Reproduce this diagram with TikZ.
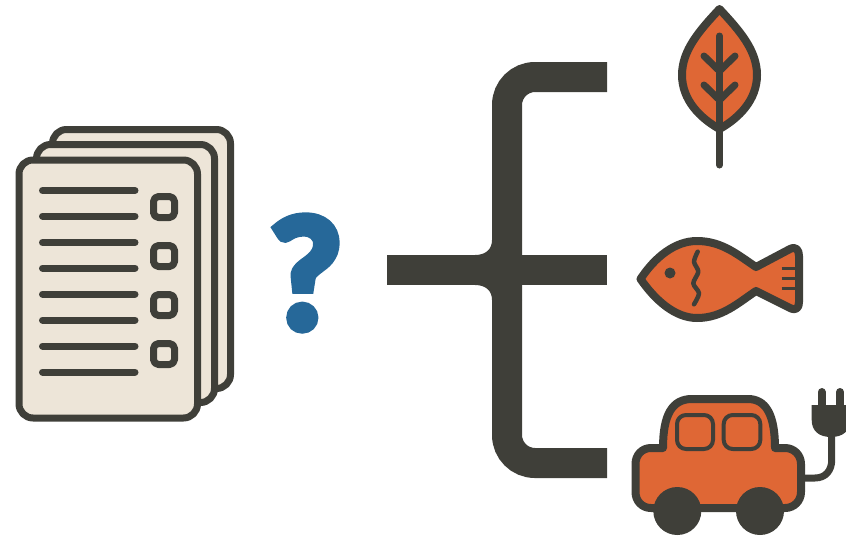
\documentclass[tikz,border=0pt]{standalone}
\usepackage{fontspec}
\newfontfamily\markfont{Lato}[BoldFeatures={FakeBold=6}]
\definecolor{inkdark}{HTML}{3F3F39}
\definecolor{paperbeige}{HTML}{EDE5D8}
\definecolor{iconorange}{HTML}{DF6735}
\definecolor{markblue}{HTML}{266899}
\tikzset{
  ink/.style={draw=inkdark, line width=7pt, line join=round, line cap=round},
  sheet/.style={ink, fill=paperbeige, rounded corners=14pt},
  tickbox/.style={ink, fill=paperbeige, rounded corners=5pt},
  textline/.style={ink},
  icon/.style={ink, line width=8pt, fill=iconorange},
  pane/.style={ink, line width=4pt, rounded corners=9pt},
  brace/.style={draw=inkdark, line width=30pt}
}
\begin{document}
\begin{tikzpicture}[x=1pt, y=-1pt]
  \clip (0,0) rectangle (846,536);
  % --- Stak af ark ---
  \draw[sheet] (52.5,129.5) rectangle (230.5,388.5);
  \draw[sheet] (36.5,144.5) rectangle (214.5,402.5);
  \draw[sheet] (19,160) rectangle (197.5,418);
  \foreach \y in {190.5,216,242.5,268,294,320,346,372}
    \draw[textline] (42.5,\y) -- (135,\y);
  \foreach \y in {207,256,305,354}
    \draw[tickbox] (153.5,\y-10.5) rectangle (174.5,\y+10.5);
  % --- Sporgsmaalstegn ---
  \node[text=markblue, inner sep=0pt, font=\fontsize{152}{152}\selectfont\markfont\bfseries] (mark) at (306,273) {?};
  % --- Klamme ---
  \coordinate (start) at (387,270);
  \coordinate (hub) at (507,270);
  \coordinate (armtop) at (607,77);
  \coordinate (armmid) at (607,270);
  \coordinate (armbot) at (607,463);
  \fill[inkdark] (475,255) .. controls (486,255) and (492,249) .. (492,240) -- (522,240) .. controls (522,247) and (520,251) .. (518,255) -- (518,285) .. controls (520,289) and (522,293) .. (522,300) -- (492,300) .. controls (492,291) and (486,285) .. (475,285) -- cycle;
  \draw[brace] (start) -- (armmid);
  \draw[brace, rounded corners=28pt] (armtop) -- (hub |- armtop) -- (hub |- armbot) -- (armbot);
  % --- Blad ---
  \draw[icon] (719.5,9) .. controls (700,30) and (682,50) .. (682,75) .. controls (682,100) and (700,118) .. (719.5,129) .. controls (739,118) and (757,100) .. (757,75) .. controls (757,50) and (739,30) .. (719.5,9) -- cycle;
  \draw[ink] (719.5,36) -- (719.5,165);
  \draw[ink] (704,56) -- (719.5,71) -- (735,56);
  \draw[ink] (704,85) -- (719.5,100) -- (735,85);
  % --- Fisk ---
  \draw[icon] (640.5,279) .. controls (655,257) and (675,241) .. (697,241) .. controls (722,241) and (738,255) .. (756,267) -- (790,249) .. controls (796,246) and (799,250) .. (799,256) -- (799,302) .. controls (799,308) and (796,311) .. (790,308) -- (756,291) .. controls (738,303) and (722,318) .. (697,318) .. controls (675,318) and (655,300) .. (640.5,279) -- cycle;
  \fill[inkdark] (670,273) circle[radius=5.5];
  \draw[ink, line width=4.5pt] plot[smooth] coordinates {(697.7,251.7) (694,261.7) (698.3,271.7) (693.3,283.3) (699,293.3) (694,304.3)};
  \foreach \y in {268.3,278.3,288.3}
    \draw[draw=inkdark, line width=3.5pt] (781.7,\y) -- (797,\y);
  % --- Elbil ---
  \draw[ink] (795,478) -- (815,478) .. controls (826,478) and (831.7,470) .. (831.7,460) -- (831.7,430);
  \fill[inkdark] (811.7,405) -- (850,405) -- (850,420) .. controls (850,431) and (843,437) .. (831,437) .. controls (819,437) and (811.7,431) .. (811.7,420) -- cycle;
  \draw[ink, line width=8pt] (821.7,392) -- (821.7,408);
  \draw[ink, line width=8pt] (840,392) -- (840,408);
  \draw[icon] (663,448) .. controls (663,415) and (672,399) .. (692,399) -- (748,399) .. controls (766,399) and (775,415) .. (775,448) -- (785,448) .. controls (794,448) and (801,455) .. (801,464) -- (801,492) .. controls (801,501) and (794,508) .. (785,508) -- (651,508) .. controls (642,508) and (635.5,501) .. (635.5,492) -- (635.5,464) .. controls (635.5,455) and (642,448) .. (651,448) -- cycle;
  \draw[pane] (677,415) rectangle (713,449);
  \draw[pane] (723.7,415) rectangle (760.3,449);
  \fill[inkdark] (677.3,511) circle[radius=24];
  \fill[inkdark] (760,511) circle[radius=24];
\end{tikzpicture}
\end{document}
